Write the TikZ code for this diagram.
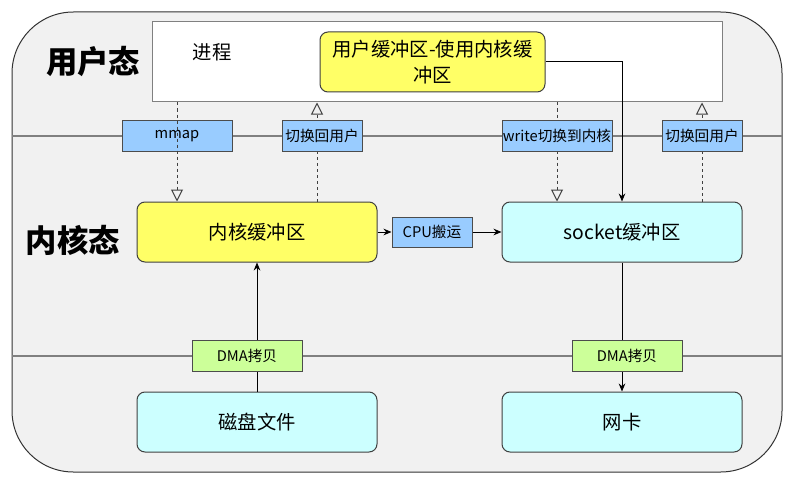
\documentclass[tikz,border=0pt]{standalone}
\usepackage{fontspec}
\setmainfont{Noto Sans CJK SC}
\usetikzlibrary{arrows.meta, positioning}

\definecolor{panelgray}{HTML}{F1F1F1}
\definecolor{bufyellow}{HTML}{FFFF66}
\definecolor{bufcyan}{HTML}{CCFFFF}
\definecolor{tagblue}{HTML}{99CCFF}
\definecolor{taggreen}{HTML}{CCFF99}

\tikzset{
  buf/.style={draw=black!75, line width=0.75pt, rounded corners=6pt, inner sep=0pt,
    minimum width=180pt, minimum height=45pt, font=\fontsize{14.5}{17}\selectfont},
  tag/.style={draw=black!70, line width=0.75pt, fill=tagblue, inner sep=0pt,
    minimum height=23pt, font=\fontsize{11}{13}\selectfont},
  sysline/.style={draw=black!50, line width=1.5pt},
  hollow/.style={draw=black!75, line width=0.75pt, dash pattern=on 2.25pt off 2.25pt,
    -{Triangle[open, width=9pt, length=9pt]}},
  flow/.style={draw=black, line width=0.75pt, -{Stealth[width=5pt, length=6pt]}},
  realm/.style={font=\fontsize{23.5}{26}\selectfont\bfseries}
}

\begin{document}
\begin{tikzpicture}[x=0.75pt, y=-0.75pt]
			\useasboundingbox (0,0) rectangle (796,485);

			% frame and the two borders
			\draw[draw=black!80, line width=0.75pt, fill=panelgray, rounded corners=46pt] (12,12) rectangle (782,472);
			\draw[sysline] (12,136) -- (782,136);
			\draw[sysline] (12,356) -- (782,356);

			\node[realm] (user) at (93,62) {用户态};
			\node[realm] (kernel) at (73,240) {内核态};

			% user space
			\node[draw=black!50, line width=0.75pt, fill=white, minimum width=427.5pt, minimum height=60pt, inner sep=0pt] (proc) at (437,62) {};
			\node[font=\fontsize{14.5}{17}\selectfont] (proctxt) at (212,52) {进程};
			\node[buf, fill=bufyellow, minimum width=168.75pt, align=center, font=\fontsize{14.5}{19}\selectfont] (ubuf) at (432.5,62) {用户缓冲区-使用内核缓\\冲区};

			% kernel space
			\node[buf, fill=bufyellow] (kbuf) at (257,232) {内核缓冲区};
			\node[buf, fill=bufcyan] (sbuf) at (622,232) {socket缓冲区};
			\node[tag, minimum width=60pt, minimum height=22.5pt] (cpu) at (432,232) {CPU搬运};

			% hardware
			\node[buf, fill=bufcyan] (disk) at (257,422) {磁盘文件};
			\node[buf, fill=bufcyan] (nic) at (622,422) {网卡};

			\coordinate (xmmap) at (177,136);
			\coordinate (xback) at (317,136);
			\coordinate (xwrite) at (557,136);
			\coordinate (xret) at (702,136);
			\coordinate (xsend) at (622,136);

			\node[tag, minimum width=82.5pt] (mmap) at (177,136) {mmap};

			\draw[hollow] (proc.south -| xmmap) -- (kbuf.north -| xmmap);
			\draw[hollow] (kbuf.north -| xback) -- (proc.south -| xback);
			\draw[hollow] (proc.south -| xwrite) -- (sbuf.north -| xwrite);
			\draw[hollow] (sbuf.north -| xret) -- (proc.south -| xret);
			\draw[flow] (ubuf.east) -| (sbuf.north -| xsend);

			\draw[flow] (kbuf) -- (cpu);
			\draw[flow] (cpu) -- (sbuf);
			\draw[flow] (disk) -- (kbuf);
			\draw[flow] (sbuf) -- (nic);

			\node[tag, minimum width=60pt] (back) at (322,136) {切换回用户};
			\node[tag, minimum width=82.5pt] (write) at (557,136) {write切换到内核};
			\node[tag, minimum width=60pt] (ret) at (702,136) {切换回用户};

			\node[tag, fill=taggreen, minimum width=82.5pt] (dmain) at (247,356) {DMA拷贝};
			\node[tag, fill=taggreen, minimum width=82.5pt] (dmaout) at (627,356) {DMA拷贝};

		\end{tikzpicture}
\end{document}
